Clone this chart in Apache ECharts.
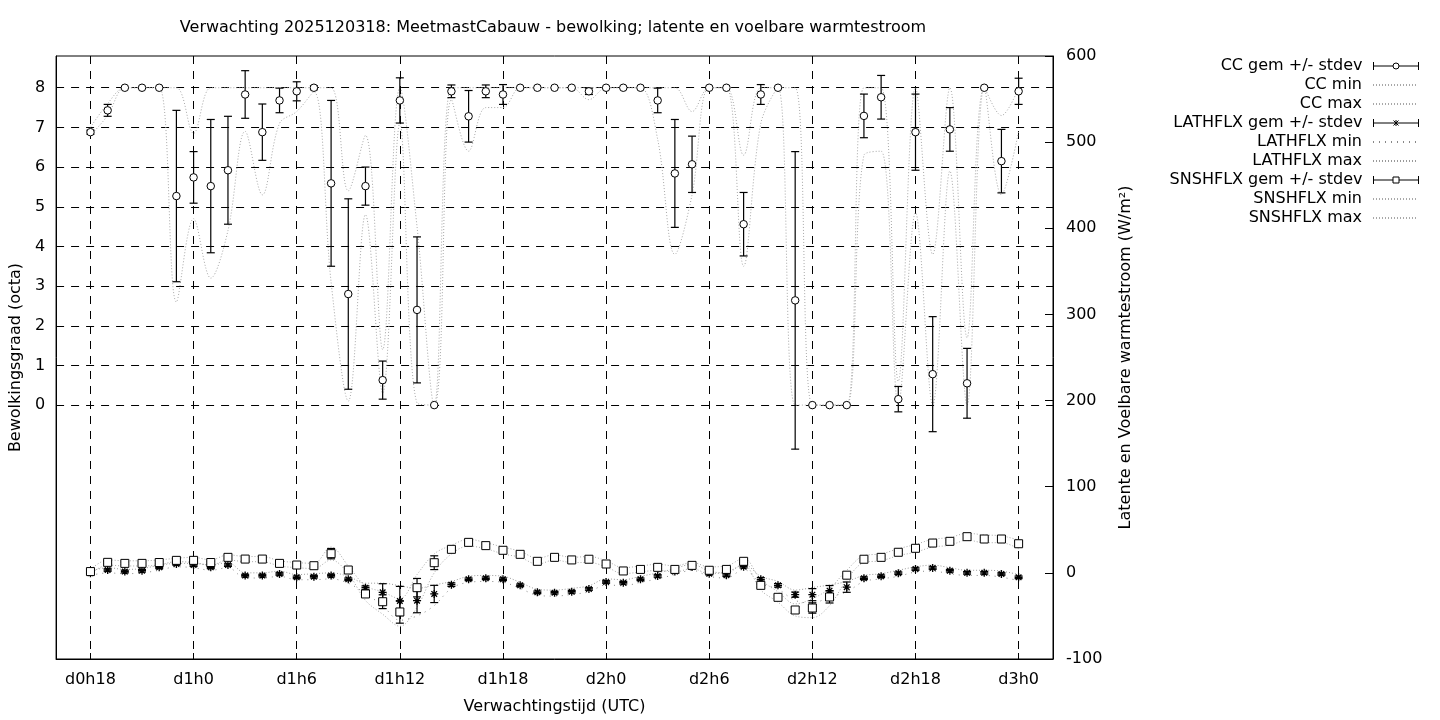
<!DOCTYPE html>
<html><head><meta charset="utf-8">
<script src="https://cdn.jsdelivr.net/npm/echarts@6/dist/echarts.min.js"></script>
<style>html,body{margin:0;padding:0;background:#fff}#c{width:1440px;height:720px}</style>
</head><body><div id="c"></div>
<script>
// forecast hours since d0h0
const hours = [18,19,20,21,22,23,24,25,26,27,28,29,30,31,32,33,34,35,36,37,38,39,40,41,42,43,44,45,46,47,48,49,50,51,52,53,54,55,56,57,58,59,60,61,62,63,64,65,66,67,68,69,70,71,72];

const xTickValues = [18,24,30,36,42,48,54,60,66,72];
const xTickLabels = ['d0h18','d1h0','d1h6','d1h12','d1h18','d2h0','d2h6','d2h12','d2h18','d3h0'];
const ccTickValues = [0,1,2,3,4,5,6,7,8];

// Cloud cover (octa)
const ccMean = [6.88,7.43,8,8,8,5.27,5.74,5.52,5.92,7.83,6.88,7.68,7.91,8.0,5.59,2.8,5.52,0.63,7.68,2.4,0,7.91,7.28,7.91,7.83,8,8,8,8,7.91,8,8,8,7.68,5.84,6.07,8,8,4.56,7.83,8,2.64,0,0,0,7.29,7.76,0.15,6.88,0.78,6.95,0.55,8,6.15,7.91];
const ccSd   = [0.05,0.15,0,0,0,2.16,0.65,1.68,1.36,0.6,0.71,0.31,0.24,0.05,2.09,2.4,0.48,0.48,0.57,1.84,0,0.16,0.65,0.16,0.25,0,0,0,0,0.08,0,0,0,0.31,1.36,0.71,0,0,0.8,0.25,0,3.75,0,0,0,0.55,0.55,0.32,0.96,1.45,0.55,0.88,0,0.8,0.33];
const ccMin  = [6.8,7.3,8,8,8,2.6,4.7,3.2,4.4,6.9,5.3,7.1,7.4,7.9,3.1,0.1,4.8,0.3,7.1,0.05,0,7.7,6.4,7.5,7.5,8,8,8,8,7.7,8,8,8,6.7,3.8,5.3,8,8,3.5,7.1,8,0,0,0,0,6.3,6.4,0,4.85,0,5.9,0,8,5.3,6.9];
const ccMax  = [7.0,7.6,8,8,8,8,6.85,8,8,8,8,8,8,8,8,5.4,6.8,1.4,8,4.5,0,8,8,8,8,8,8,8,8,8,8,8,8,8,8,7.4,8,8,6.3,8,8,8,0,0,0,8,8,0.6,8,3.8,8,1.7,8,7.3,8];

// Latent heat flux (W/m2)
const lhMean = [-0.4,3.3,1.5,2.5,6.4,10.3,9,6.4,9,-3.2,-3.2,-1.3,-5.2,-4.4,-3.2,-7.5,-17.2,-22.6,-32.7,-32.3,-24.5,-13.7,-7.5,-6.3,-7.5,-14.5,-22.6,-23,-21.9,-18.7,-10.6,-11.4,-7.5,-3.6,1.5,6.7,-0.9,-2.7,7.2,-7.5,-14.5,-25.3,-25.3,-20.7,-16.6,-6.3,-4,-0.4,4.4,5.6,2.5,0,0,-1.3,-5.2];
const lhSd   = [1.5,1.5,1.5,1.5,1.5,1.5,1.5,1.5,1.5,1.5,1.5,1.5,1.5,1.5,1.5,1.5,2,10,17,14,10,2,1.5,1.5,1.5,1.5,1.5,1.5,1.5,1.5,1.5,1.5,1.5,1.5,1.5,1.5,1.5,1.5,1.5,2,2,3,7,6,6,1.5,1.5,1.5,1.5,1.5,1.5,1.5,1.5,1.5,1.5];
const lhMin  = [-3,0,-1,0,3,7,6,3,6,-6,-6,-4,-8,-8,-7,-12,-24,-38,-55,-50,-38,-18,-11,-10,-11,-18,-26,-27,-25,-22,-14,-15,-11,-7,-2,3,-4,-6,4,-12,-19,-32,-35,-28,-22,-10,-7,-4,1,2,-1,-3,-3,-5,-9];
const lhMax  = [2,6,4,5,9,13,12,9,12,0,0,2,-2,-1,0,-4,-12,-12,-15,-18,-14,-10,-4,-3,-4,-11,-19,-20,-18,-15,-7,-8,-4,0,5,10,2,0,10,-4,-10,-20,-17,-14,-10,-3,-1,3,7,9,6,3,3,2,-2];

// Sensible heat flux (W/m2)
const shMean = [1.5,12.2,11,11,12,14.5,14.5,12,18,16,16,11,9.1,8.3,22.3,3.3,-24.5,-33.5,-45.4,-17.2,11.8,27.3,35.4,31.6,26.2,21.5,13.4,18,15,15.8,10.3,2.2,4,6.4,4,8.7,3,4,13.4,-14.5,-28.4,-43.1,-40.8,-28,-2.7,15.8,18,23.9,28.5,34.6,36.6,42,39.3,39.3,33.8];
const shSd   = [2,1.5,1.5,1.5,1.5,1.5,1.5,1.5,1.5,1.5,1.5,1.5,1.5,1.5,6,1.5,2,8,13,10.7,8,1.5,1.5,1.5,1.5,1.5,1.5,1.5,1.5,1.5,2,1.5,1.5,1.5,1.5,1.5,2,1.5,1.5,2,2,3,6,7,2,1.5,1.5,1.5,1.5,1.5,1.5,1.5,1.5,1.5,3];
const shMin  = [-1,9,8,8,9,11,11,9,15,13,13,8,6,5,15,-1,-32,-48,-62,-40,0,22,31,28,22,18,10,15,12,12,7,-1,1,3,1,5,-1,1,9,-20,-34,-50,-52,-38,-8,12,14,20,24,30,32,38,35,35,28];
const shMax  = [4,15,14,14,15,17,18,15,21,19,19,14,12,11,30,8,-15,-22,-30,-2,22,32,39,35,30,25,17,21,18,19,14,6,8,10,8,12,7,8,17,-8,-22,-36,-30,-18,3,20,22,28,33,39,41,46,44,43,38];

const FONT = 'DejaVu Sans';
const FS = 16;
const GRAY = '#a8a8a8';

function pairs(vals){ return hours.map((h,i)=>[h, vals[i]]); }
function errData(mean, sd){
  const out = [];
  hours.forEach((h,i)=>{ if (sd[i] > 0) out.push([h, mean[i]-sd[i], mean[i]+sd[i]]); });
  return out;
}
function errRender(params, api){
  const x = api.value(0);
  const p1 = api.coord([x, api.value(2)]);
  const p2 = api.coord([x, api.value(1)]);
  const hw = 4;
  const st = {stroke:'#000', lineWidth:1.2};
  return {type:'group', children:[
    {type:'line', shape:{x1:p1[0], y1:p1[1], x2:p2[0], y2:p2[1]}, style:st},
    {type:'line', shape:{x1:p1[0]-hw, y1:p1[1], x2:p1[0]+hw, y2:p1[1]}, style:st},
    {type:'line', shape:{x1:p2[0]-hw, y1:p2[1], x2:p2[0]+hw, y2:p2[1]}, style:st}
  ]};
}

const ASTER = 'path://M4 0 L4 8 M0 4 L8 4 M1.2 1.2 L6.8 6.8 M6.8 1.2 L1.2 6.8';
const ICON_CIRC = 'path://M0 0 L0 8 M0 4 L19.5 4 M25.5 4 L45 4 M45 0 L45 8 M19.5 4 A3 3 0 1 1 25.5 4 A3 3 0 1 1 19.5 4 Z';
const ICON_AST  = 'path://M0 0 L0 8 M0 4 L45 4 M45 0 L45 8 M20 1.5 L25 6.5 M25 1.5 L20 6.5 M22.5 1 L22.5 7';
const ICON_SQ   = 'path://M0 0 L0 8 M0 4 L19.5 4 M25.5 4 L45 4 M45 0 L45 8 M19.5 1 L25.5 1 L25.5 7 L19.5 7 Z';

const legendNames = ['CC gem +/- stdev','CC min','CC max','LATHFLX gem +/- stdev','LATHFLX min','LATHFLX max','SNSHFLX gem +/- stdev','SNSHFLX min','SNSHFLX max'];
const legendIcons = {'CC gem +/- stdev':ICON_CIRC,'LATHFLX gem +/- stdev':ICON_AST,'SNSHFLX gem +/- stdev':ICON_SQ};

const legends = legendNames.map((n,i)=>{
  const d = {name:n};
  if (legendIcons[n]) { d.icon = legendIcons[n]; d.itemStyle = {color:'#fff', borderColor:'#000', borderWidth:1}; }
  else { d.itemStyle = {opacity:0}; }
  return {
    data:[d], right:21, top:57 + i*19, orient:'vertical', align:'right', padding:0,
    itemWidth:45, itemHeight:8, selectedMode:false,
    textStyle:{fontFamily:FONT, fontSize:FS, color:'#000', lineHeight:18, padding:[0,6,0,0]}
  };
});

function dotLine(name, vals, yIdx, dash, color){
  return {name, type:'line', yAxisIndex:yIdx, data:pairs(vals), symbol:'none', smooth:0.35, z:2,
    lineStyle:{color:color||GRAY, width:1, type:dash||[1,2]}, itemStyle:{color:color||GRAY}};
}

const option = {
  animation:false,
  backgroundColor:'#fff',
  title:{text:'Verwachting 2025120318: MeetmastCabauw - bewolking; latente en voelbare warmtestroom',
    left:553, top:20, textAlign:'center', padding:0,
    textStyle:{fontFamily:FONT, fontSize:FS, fontWeight:'normal', color:'#000'}},
  legend: legends,
  grid:{left:54, top:56, width:999, height:603, show:true, borderColor:'#000', borderWidth:1, backgroundColor:'transparent'},
  xAxis:{type:'value', min:16, max:74,
    name:'Verwachtingstijd (UTC)', nameLocation:'middle', nameGap:40,
    nameTextStyle:{fontFamily:FONT, fontSize:FS, color:'#000'},
    axisLine:{show:true, onZero:false, lineStyle:{color:'#000'}},
    axisTick:{show:true, inside:true, length:6, customValues:xTickValues, lineStyle:{color:'#000'}},
    axisLabel:{customValues:xTickValues, margin:13, fontFamily:FONT, fontSize:FS, color:'#000',
      formatter:(v)=>xTickLabels[xTickValues.indexOf(v)]},
    splitLine:{show:true, lineStyle:{color:'#000', type:[8,7], width:1}}
  },
  yAxis:[
    {type:'value', min:-6.4, max:8.8, position:'left',
      name:'Bewolkingsgraad (octa)', nameLocation:'middle', nameGap:26, nameRotate:90,
      nameTextStyle:{fontFamily:FONT, fontSize:FS, color:'#000'},
      axisLine:{show:true, onZero:false, lineStyle:{color:'#000'}},
      axisTick:{show:true, inside:true, length:6, customValues:ccTickValues, lineStyle:{color:'#000'}},
      axisLabel:{customValues:ccTickValues, margin:11, fontFamily:FONT, fontSize:FS, color:'#000'},
      splitLine:{show:true, lineStyle:{color:'#000', type:[8,7], width:1}}
    },
    {type:'value', min:-100, max:600, interval:100, position:'right',
      name:'Latente en Voelbare warmtestroom (W/m\u00B2)', nameLocation:'middle', nameGap:65, nameRotate:90,
      nameTextStyle:{fontFamily:FONT, fontSize:FS, color:'#000'},
      axisLine:{show:true, onZero:false, lineStyle:{color:'#000'}},
      axisTick:{show:true, inside:true, length:8, lineStyle:{color:'#000'}},
      axisLabel:{margin:13, fontFamily:FONT, fontSize:FS, color:'#000'},
      splitLine:{show:false}
    }
  ],
  series:[
    {name:'CC gem +/- stdev', type:'custom', yAxisIndex:0, data:errData(ccMean, ccSd), renderItem:errRender, encode:{x:0, y:[1,2]}, z:3, itemStyle:{color:'#000'}},
    {name:'CC gem +/- stdev', type:'scatter', yAxisIndex:0, data:pairs(ccMean), symbol:'circle', symbolSize:7.5, z:4,
      itemStyle:{color:'#fff', borderColor:'#000', borderWidth:1, opacity:1}},
    dotLine('CC min', ccMin, 0),
    dotLine('CC max', ccMax, 0),
    {name:'LATHFLX gem +/- stdev', type:'custom', yAxisIndex:1, data:errData(lhMean, lhSd), renderItem:errRender, encode:{x:0, y:[1,2]}, z:3, itemStyle:{color:'#000'}},
    {name:'LATHFLX gem +/- stdev', type:'scatter', yAxisIndex:1, data:pairs(lhMean), symbol:ASTER, symbolSize:8, z:4,
      itemStyle:{color:'rgba(0,0,0,0)', borderColor:'#000', borderWidth:1.3, opacity:1}},
    dotLine('LATHFLX min', lhMin, 1, [1,5], '#888'),
    dotLine('LATHFLX max', lhMax, 1, [1,2], '#999'),
    {name:'SNSHFLX gem +/- stdev', type:'custom', yAxisIndex:1, data:errData(shMean, shSd), renderItem:errRender, encode:{x:0, y:[1,2]}, z:3, itemStyle:{color:'#000'}},
    {name:'SNSHFLX gem +/- stdev', type:'scatter', yAxisIndex:1, data:pairs(shMean), symbol:'rect', symbolSize:8, z:4,
      itemStyle:{color:'#fff', borderColor:'#000', borderWidth:1, opacity:1}},
    dotLine('SNSHFLX min', shMin, 1),
    dotLine('SNSHFLX max', shMax, 1)
  ]
};

const chart = echarts.init(document.getElementById('c'), null, {renderer:'canvas'});
chart.setOption(option);
</script>
</body></html>
